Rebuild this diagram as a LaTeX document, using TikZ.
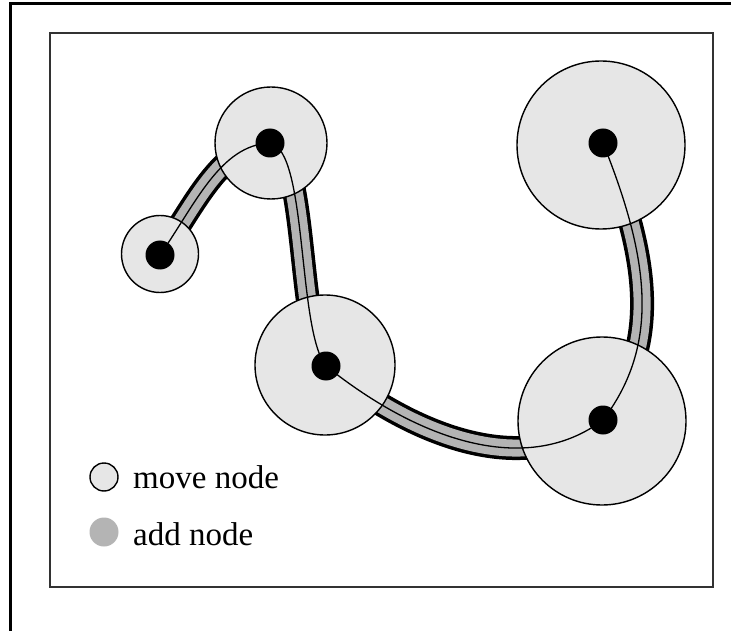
\documentclass[tikz,border=0pt]{standalone}
\usepackage{fontspec}
\setmainfont{Liberation Serif}
\definecolor{zonefill}{RGB}{230,230,230}
\definecolor{bandgray}{RGB}{180,180,180}
\definecolor{framegray}{RGB}{50,50,50}
\tikzset{
  zone/.style={circle, draw=black, line width=1.4pt, fill=zonefill, inner sep=0pt},
  dot/.style={circle, fill=black, inner sep=0pt, minimum size=29pt},
  bandedge/.style={line width=24pt, draw=black},
  bandcore/.style={line width=17pt, draw=bandgray},
  link/.style={line width=1.3pt, draw=black},
  legendtext/.style={anchor=base west, inner sep=0pt, font=\fontsize{33}{33}\selectfont},
}
\begin{document}
\begin{tikzpicture}[x=1pt, y=-1pt]
\useasboundingbox (0,0) rectangle (731,631);
\clip (0,0) rectangle (731,631);
\fill[white] (0,0) rectangle (731,631);
% outer page frame
\draw[line width=3pt] (10,640) -- (10,4) -- (740,4);
% inner panel
\draw[framegray, line width=2.5pt] (50,33) rectangle (713,587);

% node centres
\coordinate (c1) at (160,255);
\coordinate (c2) at (270,143);
\coordinate (c3) at (326,366);
\coordinate (c4) at (603,143);
\coordinate (c5) at (603,420);

% added-node bands along each link
\foreach \s in {bandedge, bandcore} {
  \draw[\s] (c1) .. controls +(35,-50) and +(-50,2) .. (c2);
  \draw[\s] (c2) .. controls +(38,7) and +(-29,-36) .. (c3);
  \draw[\s] (c3) .. controls +(99,79) and +(-73,55) .. (c5);
  \draw[\s] (c4) .. controls +(47,117) and +(57,-75) .. (c5);
}

% move-node zones
\node[zone, minimum size=77pt]  (z1) at (160,254) {};
\node[zone, minimum size=112pt] (z2) at (271,143) {};
\node[zone, minimum size=140pt] (z3) at (325,365) {};
\node[zone, minimum size=168pt] (z4) at (601,145) {};
\node[zone, minimum size=168pt] (z5) at (602,421) {};

% links
\draw[link] (c1) .. controls +(35,-50) and +(-50,2) .. (c2);
\draw[link] (c2) .. controls +(38,7) and +(-29,-36) .. (c3);
\draw[link] (c3) .. controls +(99,79) and +(-73,55) .. (c5);
\draw[link] (c4) .. controls +(47,117) and +(57,-75) .. (c5);

% nodes
\node[dot] (d1) at (c1) {};
\node[dot] (d2) at (c2) {};
\node[dot] (d3) at (c3) {};
\node[dot] (d4) at (c4) {};
\node[dot] (d5) at (c5) {};

% legend
\node[circle, draw=black, line width=1.4pt, fill=zonefill, minimum size=28pt, inner sep=0pt] (lm) at (104,477) {};
\node[circle, fill=bandgray, minimum size=29pt, inner sep=0pt] (la) at (104,532) {};
\node[legendtext] (tm) at (133,488) {move node};
\node[legendtext] (ta) at (133,545) {add node};
\end{tikzpicture}
\end{document}
